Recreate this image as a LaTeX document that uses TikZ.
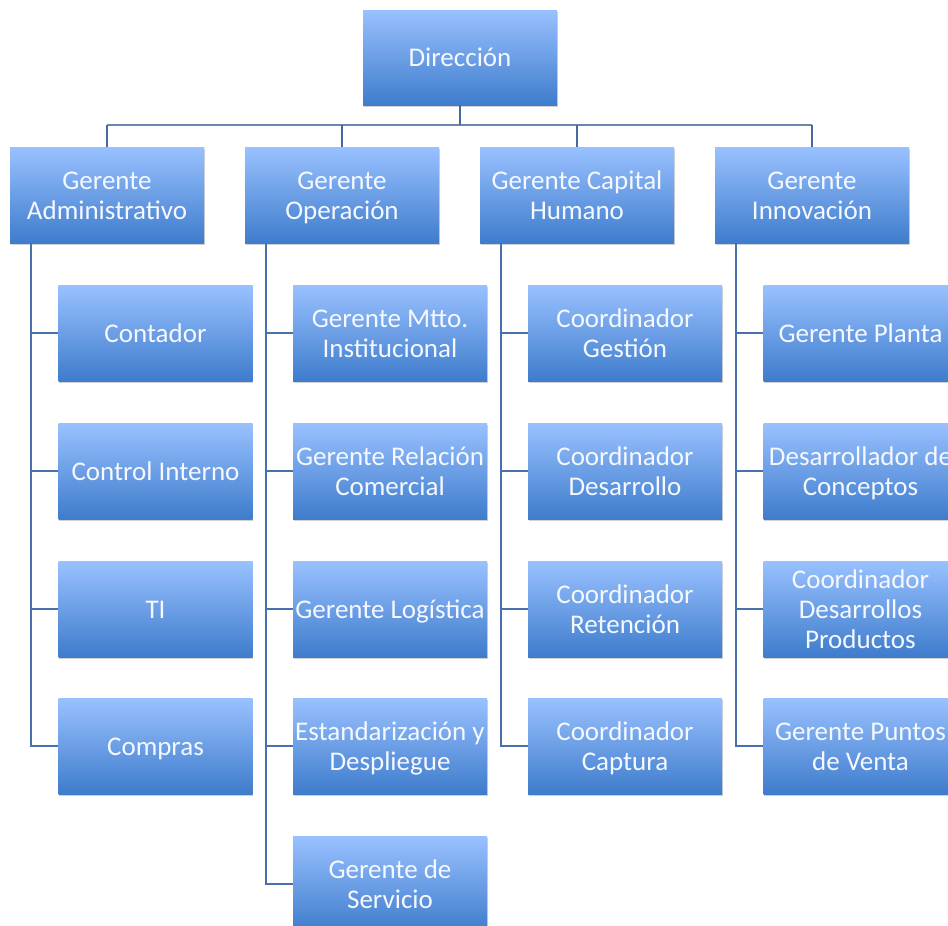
\documentclass[tikz,border=0pt]{standalone}
\usepackage{fontspec}
\setmainfont{Carlito}
\usetikzlibrary{shadows,calc}
\definecolor{boxtop}{RGB}{153,193,255}
\definecolor{boxbot}{RGB}{62,124,204}
\definecolor{busc}{RGB}{105,135,175}
\definecolor{upc}{RGB}{72,105,155}
\definecolor{spinec}{RGB}{72,112,175}
\definecolor{txt}{RGB}{245,248,255}
\newcommand{\orgln}[1]{\rule[-6pt]{0pt}{30pt}#1}
\tikzset{
  orgbox/.style={rectangle, minimum width=194pt, minimum height=96pt, inner sep=0pt,
    top color=boxtop, bottom color=boxbot, draw=none,
    drop shadow={shadow xshift=0.8pt, shadow yshift=-2pt, opacity=0.3, fill=black!60},
    text=txt, align=center, font=\fontsize{27}{30}\selectfont},
  busline/.style={draw=busc, line width=2.6pt},
  upline/.style={draw=upc, line width=2.2pt},
  spine/.style={draw=spinec, line width=1.8pt},
}
\begin{document}
\begin{tikzpicture}[x=1pt,y=-1pt]
\useasboundingbox (0,0) rectangle (948,926);
\clip (0,0) rectangle (948,926);
% top
\node[orgbox, minimum height=95pt] (dir) at (460,57.5) {\orgln{Dirección}};
% level 2
\node[orgbox] (ga) at (107,195) {\orgln{Gerente}\\\orgln{Administrativo}};
\node[orgbox] (go) at (342,195) {\orgln{Gerente}\\\orgln{Operación}};
\node[orgbox] (gc) at (577,195) {\orgln{Gerente Capital}\\\orgln{Humano}};
\node[orgbox] (gi) at (812,195) {\orgln{Gerente}\\\orgln{Innovación}};
% column 1
\node[orgbox] (a1) at (155.5,333) {\orgln{Contador}};
\node[orgbox] (a2) at (155.5,471) {\orgln{Control Interno}};
\node[orgbox] (a3) at (155.5,609) {\orgln{TI}};
\node[orgbox] (a4) at (155.5,746) {\orgln{Compras}};
% column 2
\node[orgbox] (o1) at (390,333) {\orgln{Gerente Mtto.}\\\orgln{Institucional}};
\node[orgbox] (o2) at (390,471) {\orgln{Gerente Relación}\\\orgln{Comercial}};
\node[orgbox] (o3) at (390,609) {\orgln{Gerente Logística}};
\node[orgbox] (o4) at (390,746) {\orgln{Estandarización y}\\\orgln{Despliegue}};
\node[orgbox] (o5) at (390,884) {\orgln{Gerente de}\\\orgln{Servicio}};
% column 3
\node[orgbox] (c1) at (625,333) {\orgln{Coordinador}\\\orgln{Gestión}};
\node[orgbox] (c2) at (625,471) {\orgln{Coordinador}\\\orgln{Desarrollo}};
\node[orgbox] (c3) at (625,609) {\orgln{Coordinador}\\\orgln{Retención}};
\node[orgbox] (c4) at (625,746) {\orgln{Coordinador}\\\orgln{Captura}};
% column 4
\node[orgbox] (i1) at (860.5,333) {\orgln{Gerente Planta}};
\node[orgbox] (i2) at (860.5,471) {\orgln{Desarrollador de}\\\orgln{Conceptos}};
\node[orgbox] (i3) at (860.5,609) {\orgln{Coordinador}\\\orgln{Desarrollos}\\\orgln{Productos}};
\node[orgbox] (i4) at (860.5,746) {\orgln{Gerente Puntos}\\\orgln{de Venta}};
% bus
\coordinate (b) at (460,125);
\draw[busline] (ga.north |- b) -- (gi.north |- b);
\draw[upline] (dir.south) -- (dir.south |- b);
\foreach \n in {ga,go,gc,gi} \draw[upline] (\n.north |- b) -- (\n.north);
% spines
\coordinate (sa) at ($(ga.south west)+(21,0)$);
\coordinate (so) at ($(go.south west)+(21,0)$);
\coordinate (sc) at ($(gc.south west)+(21,0)$);
\coordinate (si) at ($(gi.south west)+(21,0)$);
\foreach \n in {a1,a2,a3,a4} \draw[spine] (sa) |- (\n.west);
\foreach \n in {o1,o2,o3,o4,o5} \draw[spine] (so) |- (\n.west);
\foreach \n in {c1,c2,c3,c4} \draw[spine] (sc) |- (\n.west);
\foreach \n in {i1,i2,i3,i4} \draw[spine] (si) |- (\n.west);
\end{tikzpicture}
\end{document}
